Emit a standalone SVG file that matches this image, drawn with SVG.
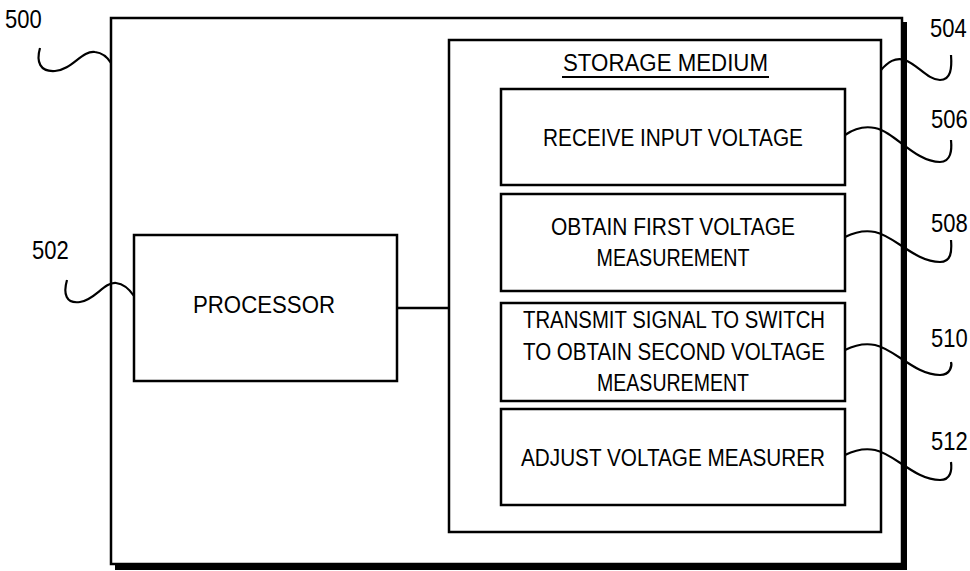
<svg xmlns="http://www.w3.org/2000/svg" width="970" height="571" viewBox="0 0 970 571">
<style>
.box{fill:#fff;stroke:#000;stroke-width:2.5}
.t{font-family:"Liberation Sans",Arial,sans-serif;font-size:23.5px;fill:#000;text-anchor:middle}
.lbl{font-family:"Liberation Sans",Arial,sans-serif;font-size:22px;fill:#000}
.lead{fill:none;stroke:#000;stroke-width:2.2}
</style>
<rect x="0" y="0" width="970" height="571" fill="#fff"/>
<g id="n500">
<rect x="115" y="22" width="792" height="548" fill="#000"/>
<rect class="box" x="111" y="18" width="791" height="546"/>
</g>
<g id="n504">
<rect class="box" x="449" y="40" width="432" height="492"/>
<text class="t" x="665.5" y="71" textLength="205" lengthAdjust="spacingAndGlyphs">STORAGE MEDIUM</text>
<line x1="562" y1="77" x2="769" y2="77" stroke="#000" stroke-width="2"/>
</g>
<g id="n502">
<rect class="box" x="134" y="235" width="263" height="146"/>
<text class="t" x="264" y="313" textLength="142" lengthAdjust="spacingAndGlyphs">PROCESSOR</text>
</g>
<g id="n506">
<rect class="box" x="501" y="89" width="344" height="96"/>
<text class="t" x="673" y="145.5" textLength="260" lengthAdjust="spacingAndGlyphs">RECEIVE INPUT VOLTAGE</text>
</g>
<g id="n508">
<rect class="box" x="501" y="194" width="344" height="97"/>
<text class="t" x="673" y="235" textLength="244" lengthAdjust="spacingAndGlyphs">OBTAIN FIRST VOLTAGE</text>
<text class="t" x="673" y="266" textLength="153" lengthAdjust="spacingAndGlyphs">MEASUREMENT</text>
</g>
<g id="n510">
<rect class="box" x="501" y="303" width="344" height="98"/>
<text class="t" x="674" y="328" textLength="302" lengthAdjust="spacingAndGlyphs">TRANSMIT SIGNAL TO SWITCH</text>
<text class="t" x="674" y="360" textLength="302" lengthAdjust="spacingAndGlyphs">TO OBTAIN SECOND VOLTAGE</text>
<text class="t" x="673" y="391" textLength="152" lengthAdjust="spacingAndGlyphs">MEASUREMENT</text>
</g>
<g id="n512">
<rect class="box" x="501" y="409" width="344" height="96"/>
<text class="t" x="673" y="465.5" textLength="304" lengthAdjust="spacingAndGlyphs">ADJUST VOLTAGE MEASURER</text>
</g>
<g id="connectors">
<line x1="397" y1="308" x2="449" y2="308" stroke="#000" stroke-width="2.5"/>
<path class="lead" d="M40,48 C36,62 40,72 55,71 C72,70 82,50 95,52 C103,53 108,58 111,63"/>
<path class="lead" d="M67,280 C63,294 66,304 80,302 C95,300 104,282 116,283 C124,284 130,290 134,296"/>
<path class="lead" d="M881,70 C888,62 895,57 905,60 C918,65 928,80 940,80 C951,80 952,68 951,55"/>
<path class="lead" d="M845,135 C855,128 865,126 875,128 C895,132 915,162 940,162 C951,162 952,150 951,140"/>
<path class="lead" d="M845,237 C855,232 865,230 875,232 C895,236 915,262 940,262 C951,262 952,252 951,240"/>
<path class="lead" d="M845,350 C855,345 865,343 875,345 C895,349 915,375 940,375 C951,375 952,365 951,362"/>
<path class="lead" d="M845,455 C855,450 865,448 875,450 C895,454 915,480 940,480 C951,480 952,470 951,462"/>
</g>
<g id="labels">
<text class="lbl" transform="translate(5,28) scale(1,1.18)">500</text>
<text class="lbl" transform="translate(32,259) scale(1,1.18)">502</text>
<text class="lbl" transform="translate(930,37) scale(1,1.18)">504</text>
<text class="lbl" transform="translate(931,128) scale(1,1.18)">506</text>
<text class="lbl" transform="translate(931,232) scale(1,1.18)">508</text>
<text class="lbl" transform="translate(931,347) scale(1,1.18)">510</text>
<text class="lbl" transform="translate(931,450) scale(1,1.18)">512</text>
</g>
</svg>
